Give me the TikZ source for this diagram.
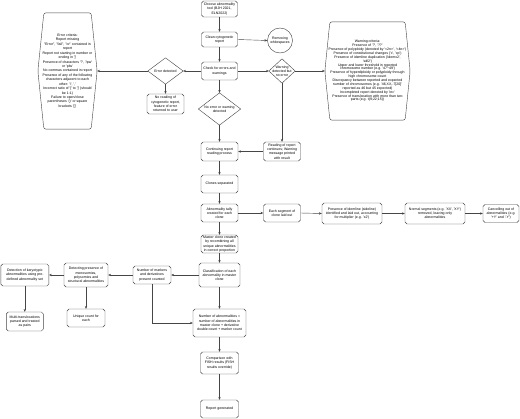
\documentclass[tikz,border=0pt]{standalone}
\usepackage{fontspec}
\setmainfont{Liberation Sans}[Ligatures=TeXOff]
\usetikzlibrary{arrows.meta, positioning, calc}
\definecolor{linegray}{RGB}{70, 70, 70}
\newlength{\pxu}
\setlength{\pxu}{0.05cm}
\newcommand{\chartfont}{\fontsize{5}{6}\selectfont}
\tikzset{
    stepbox/.style={
        rectangle,
        rounded corners=2.8pt,
        draw=linegray,
        line width=0.6pt,
        fill=white,
        align=center,
        inner sep=0pt,
        font=\chartfont
    },
    bare/.style={
        rectangle,
        align=center,
        inner sep=0pt,
        font=\chartfont
    },
    boxsize/.style 2 args={minimum width=#1\pxu, minimum height=#2\pxu},
    outline/.style={draw=linegray, line width=0.6pt},
    flow/.style={draw=linegray, line width=0.6pt, -{Stealth[length=4pt, width=3.4pt]}}
}

\begin{document}
\begin{tikzpicture}[x=\pxu, y=-\pxu]
    \useasboundingbox (0,0) rectangle (520,419);

    \node[stepbox, boxsize={36}{16}] (choose) at (219.5,9) {Choose abnormality\\tool (BJH 2021,\\ELN2022)};
    \node[stepbox, boxsize={36}{15}] (clean) at (219.5,39.5) {Clean cytogenetic\\report};
    \node[stepbox, circle, minimum size=25\pxu] (ws) at (280,40.5) {Removing\\whitespaces};
    \node[stepbox, boxsize={36}{18}] (check) at (219.5,71) {Check for errors and\\warnings};

    \node[bare, boxsize={35}{26}] (errd) at (165.5,71) {Error detected};
    \node[bare, boxsize={26}{24}] (warnd) at (282,71) {Warning\\detected but\\no error};
    \node[bare, boxsize={42}{32}] (noerr) at (219.5,109) {No error or warning\\detected};

    \node[bare, boxsize={59}{116}, font=\fontsize{5}{6.3}\selectfont] (errc) at (67.5,71) {Error criteria:\\Report missing\\"Error", "fail", "or" contained in\\report\\Report not starting in number or\\ending in ']'\\Presence of characters '?', '/pw'\\or 'plw'\\No commas contained in report\\Presence of any of the following\\characters adjacent to each\\other: '/', ','\\Incorrect ratio of '[' to ']' (should\\be 1:1)\\Failure to open/close\\parentheses '()' or square\\brackets '[]'};
    \node[bare, boxsize={85}{98}, font=\fontsize{5}{5.5}\selectfont] (warnc) at (367.5,71) {Warning criteria:\\Presence of '?', '??'\\Presence of polyploidy (denoted by '<2n>', '<4n>')\\Presence of constitutional changes ('c', 'cp')\\Presence of idemline duplication ('idemx2',\\'sdl2')\\Upper and lower threshold in reported\\chromosome number (e.g. '47\textasciitilde 49')\\Presence of hyperdiploidy or polyploidy through\\high chromosome count\\Discrepancy between reported and expected\\number of chromosomes (e.g. '46,XX,-7[20]'\\reported as 46 but 45 expected)\\Incompleted report denoted by 'inc'\\Presence of translocation with more than two\\parts (e.g. t(9;22;15))};

    \node[stepbox, boxsize={37}{20}] (noread) at (165.5,104) {No reading of\\cytogenetic report,\\feature of error\\returned to user};
    \node[stepbox, boxsize={37}{19}] (readcont) at (282,151.5) {Reading of report\\continues; Warning\\message printed\\with result};
    \node[stepbox, boxsize={37}{19}] (cont) at (219.5,151.5) {Continuing report\\reading process};
    \node[stepbox, boxsize={37}{18}] (clones) at (219.5,184) {Clones separated};
    \node[stepbox, boxsize={37}{18}] (tally) at (219.5,213) {Abnormality tally\\created for each\\clone};
    \node[stepbox, boxsize={37}{18}] (seg) at (282,213) {Each segment of\\clone laid out};
    \node[stepbox, boxsize={60}{21}] (idem) at (352,213.5) {Presence of idemline (sideline)\\identified and laid out, accounting\\for multiplier (e.g. 'x2')};
    \node[stepbox, boxsize={60}{21}] (normal) at (435,213.5) {Normal segments (e.g. 'XX', 'XY')\\removed, leaving only\\abnormalities};
    \node[stepbox, boxsize={36}{18}] (cancel) at (501,213.5) {Cancelling out of\\abnormalities (e.g.\\'+Y' and '-Y')};

    \node[stepbox, boxsize={37}{18}] (master) at (219.5,244) {Master clone created\\by recombining all\\unique abnormalities\\in correct proportion};
    \node[stepbox, boxsize={41}{24}] (classif) at (219.5,275) {Classification of each\\abnormality in master\\clone};
    \node[stepbox, boxsize={38}{18}] (markers) at (152,275) {Number of markers\\and derivatives\\present counted};
    \node[stepbox, boxsize={44}{24}] (detecting) at (86,275) {Detecting presence of\\monosomies,\\polysomies and\\structural abnormalities};
    \node[stepbox, boxsize={48}{22}] (detection) at (24.8,275) {Detection of karyotypic\\abnormalities using pre-\\defined abnormality set};
    \node[stepbox, boxsize={37}{19}] (multi) at (24.8,321.5) {Multi-translocations\\parsed and treated\\as pairs};
    \node[stepbox, boxsize={38}{18}] (unique) at (86,318) {Unique count for\\each};
    \node[stepbox, boxsize={53}{28}] (numabn) at (219.5,323) {Number of abnormalities =\\number of abnormalities in\\master clone + derivative\\double count + marker count};
    \node[stepbox, boxsize={38}{22}] (compare) at (219.5,363) {Comparison with\\FISH results (FISH\\results override)};
    \node[stepbox, boxsize={38}{18}] (report) at (219.5,409) {Report generated};

    \draw[outline] (errd.north) -- (errd.east) -- (errd.south) -- (errd.west) -- cycle;
    \draw[outline] (warnd.north) -- (warnd.east) -- (warnd.south) -- (warnd.west) -- cycle;
    \draw[outline] (noerr.north) -- (noerr.east) -- (noerr.south) -- (noerr.west) -- cycle;
    \draw[outline, rounded corners=3pt] ([xshift=6\pxu]errc.north west) -- ([xshift=-6\pxu]errc.north east) -- (errc.east)
        -- ([xshift=-6\pxu]errc.south east) -- ([xshift=6\pxu]errc.south west) -- (errc.west) -- cycle;
    \draw[outline, rounded corners=3pt] ([xshift=5\pxu]warnc.north west) -- ([xshift=-5\pxu]warnc.north east) -- (warnc.east)
        -- ([xshift=-5\pxu]warnc.south east) -- ([xshift=5\pxu]warnc.south west) -- (warnc.west) -- cycle;

    \draw[flow] (choose.south) -- (clean.north);
    \draw[flow] (clean.east) -- (ws.west);
    \draw[flow] (clean.south) -- (check.north);
    \draw[flow] (check.west) -- (errd.east);
    \draw[flow] (errd.west) -- (errc.east);
    \draw[flow] (errd.south) -- (noread.north);
    \draw[flow] (check.east) -- (warnd.west);
    \draw[flow] (warnd.east) -- (warnc.west);
    \draw[flow] (check.south) -- (noerr.north);
    \draw[flow] (warnd.south) -- (readcont.north);
    \draw[flow] (noerr.south) -- (cont.north);
    \draw[flow] (readcont.west) -- (cont.east);
    \draw[flow] (cont.south) -- (clones.north);
    \draw[flow] (clones.south) -- (tally.north);
    \draw[flow] (tally.east) -- (seg.west);
    \draw[flow] (seg.east) -- (idem.west);
    \draw[flow] (idem.east) -- (normal.west);
    \draw[flow] (normal.east) -- (cancel.west);
    \draw[flow] (tally.south) -- (master.north);
    \draw[flow] (master.south) -- (classif.north);
    \draw[flow] (classif.west) -- (markers.east);
    \draw[flow] (classif.south) -- (numabn.north);
    \draw[flow] (markers.west) -- (detecting.east);
    \draw[flow] (detecting.west) -- (detection.east);
    \draw[flow] (detection.south) -- (multi.north);
    \draw[flow] (detecting.south) -- (unique.north);
    \draw[flow] (markers.south) |- (numabn.west);
    \draw[flow] (numabn.south) -- (compare.north);
    \draw[flow] (compare.south) -- (report.north);
\end{tikzpicture}
\end{document}
